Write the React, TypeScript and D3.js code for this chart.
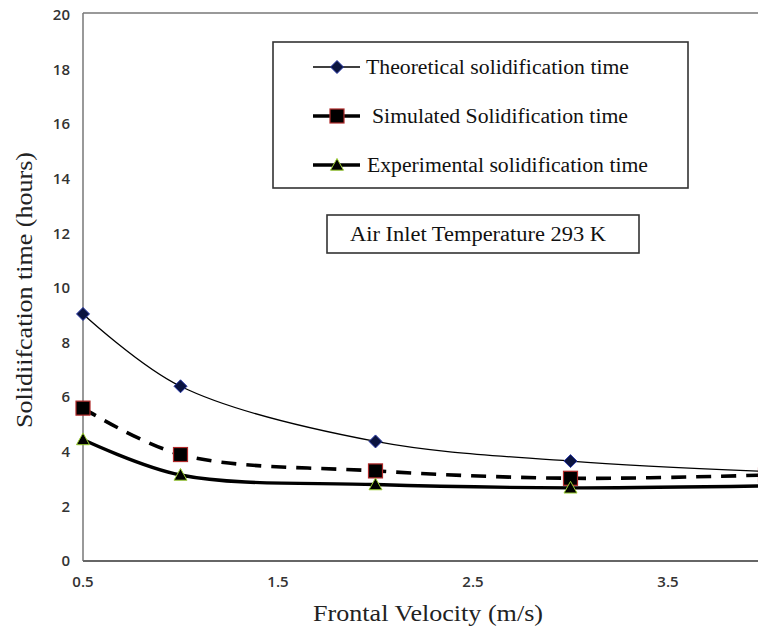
import React from "react";
import * as d3 from "d3";

const velocities = [0.5, 1.0, 2.0, 3.0, 4.0];
const theoretical = [9.05, 6.4, 4.38, 3.66, 3.28];
const simulated = [5.6, 3.9, 3.3, 3.03, 3.15];
const experimental = [4.45, 3.15, 2.8, 2.68, 2.75];
const xTicks = [0.5, 1.5, 2.5, 3.5];
const yTicks = [0, 2, 4, 6, 8, 10, 12, 14, 16, 18, 20];
const legendLabels = [
  "Theoretical solidification time",
  "Simulated Solidification time",
  "Experimental solidification time",
];
const annotation = "Air  Inlet Temperature 293 K";
const xTitle = "Frontal Velocity (m/s)";
const yTitle = "Solidiifcation time  (hours)";

const W = 758;
const H = 636;
const x = d3.scaleLinear().domain([0.5, 4.0]).range([83, 83 + 3.5 * 195]);
const y = d3.scaleLinear().domain([0, 20]).range([561, 15]);

const serif = "'Liberation Serif', 'DejaVu Serif', serif";
const sans = "'Open Sans', 'Noto Sans', sans-serif";

function diamond(cx: number, cy: number, r: number) {
  return `M${cx},${cy - r}L${cx + r},${cy}L${cx},${cy + r}L${cx - r},${cy}Z`;
}
function triangle(cx: number, cy: number, r: number) {
  return `M${cx},${cy - r}L${cx + r},${cy + r * 0.8}L${cx - r},${cy + r * 0.8}Z`;
}

function Marker({ kind, cx, cy }: { kind: number; cx: number; cy: number }) {
  if (kind === 0)
    return <path d={diamond(cx, cy, 6.5)} fill="#0b1440" stroke="#2a3aa8" strokeWidth={1} />;
  if (kind === 1)
    return <rect x={cx - 7} y={cy - 7} width={14} height={14} fill="#000" stroke="#b02a2a" strokeWidth={1.2} />;
  return <path d={triangle(cx, cy, 6.5)} fill="#000" stroke="#9acd32" strokeWidth={1} />;
}

export default function App() {
  const line = d3
    .line<number>()
    .x((_, i) => x(velocities[i]))
    .y((v) => y(v))
    .curve(d3.curveCatmullRom.alpha(0.5));

  const series = [
    { data: theoretical, width: 1.3, dash: undefined as string | undefined },
    { data: simulated, width: 3.6, dash: "15 10" },
    { data: experimental, width: 3.4, dash: undefined },
  ];

  const legendRows = [67, 116, 165];
  const legendX = [366, 372, 367];
  const legendLen = [263, 256, 281];

  return (
    <svg
      width={W}
      height={H}
      style={{ position: "absolute", left: 0, top: 0, background: "#fff" }}
    >
      <rect x={0} y={0} width={W} height={H} fill="#fff" />
      {/* plot area border */}
      <line x1={x(0.5)} x2={W} y1={y(20) - 2} y2={y(20) - 2} stroke="#777" strokeWidth={1.5} />
      <line x1={x(0.5)} x2={x(0.5)} y1={y(20) - 2} y2={y(0)} stroke="#777" strokeWidth={1.5} />
      <line x1={x(0.5)} x2={W} y1={y(0)} y2={y(0)} stroke="#666" strokeWidth={1.8} />

      {yTicks.map((t) => (
        <text
          key={t}
          x={70}
          y={y(t)}
          dy="0.35em"
          textAnchor="end"
          fontFamily={sans}
          fontWeight={600}
          fontSize={15}
          fill="#333"
        >
          {t}
        </text>
      ))}
      {xTicks.map((t) => (
        <text
          key={t}
          x={x(t)}
          y={582}
          dy="0.35em"
          textAnchor="middle"
          fontFamily={sans}
          fontWeight={600}
          fontSize={15}
          fill="#333"
        >
          {t.toFixed(1)}
        </text>
      ))}

      {series.map((s, i) => (
        <path
          key={i}
          d={line(s.data) || ""}
          fill="none"
          stroke="#000"
          strokeWidth={s.width}
          strokeDasharray={s.dash}
        />
      ))}
      {series.map((s, i) =>
        s.data.map((v, j) => <Marker key={`${i}-${j}`} kind={i} cx={x(velocities[j])} cy={y(v)} />)
      )}

      {/* legend */}
      <rect x={273} y={42} width={415} height={146} fill="#fff" stroke="#333" strokeWidth={1.6} />
      {legendLabels.map((lab, i) => (
        <g key={lab}>
          <line
            x1={313}
            x2={360}
            y1={legendRows[i]}
            y2={legendRows[i]}
            stroke="#000"
            strokeWidth={series[i].width}
          />
          <Marker kind={i} cx={337} cy={legendRows[i]} />
          <text
            x={legendX[i]}
            y={legendRows[i]}
            dy="0.33em"
            fontFamily={serif}
            fontSize={20}
            fill="#111"
            textLength={legendLen[i]}
            lengthAdjust="spacingAndGlyphs"
          >
            {lab}
          </text>
        </g>
      ))}

      {/* annotation */}
      <rect x={327} y={215} width={312} height={38} fill="#fff" stroke="#333" strokeWidth={1.6} />
      <text
        x={350}
        y={234}
        dy="0.35em"
        fontFamily={serif}
        fontSize={20}
        fill="#111"
        textLength={256}
        lengthAdjust="spacingAndGlyphs"
      >
        {annotation}
      </text>

      <text
        x={428}
        y={613}
        dy="0.35em"
        textAnchor="middle"
        fontFamily={serif}
        fontSize={23}
        fill="#222"
        textLength={230}
        lengthAdjust="spacingAndGlyphs"
      >
        {xTitle}
      </text>
      <text
        transform={`translate(24, 290) rotate(-90)`}
        textAnchor="middle"
        dy="0.35em"
        fontFamily={serif}
        fontSize={24}
        fill="#222"
        textLength={276}
        lengthAdjust="spacingAndGlyphs"
      >
        {yTitle}
      </text>
    </svg>
  );
}
